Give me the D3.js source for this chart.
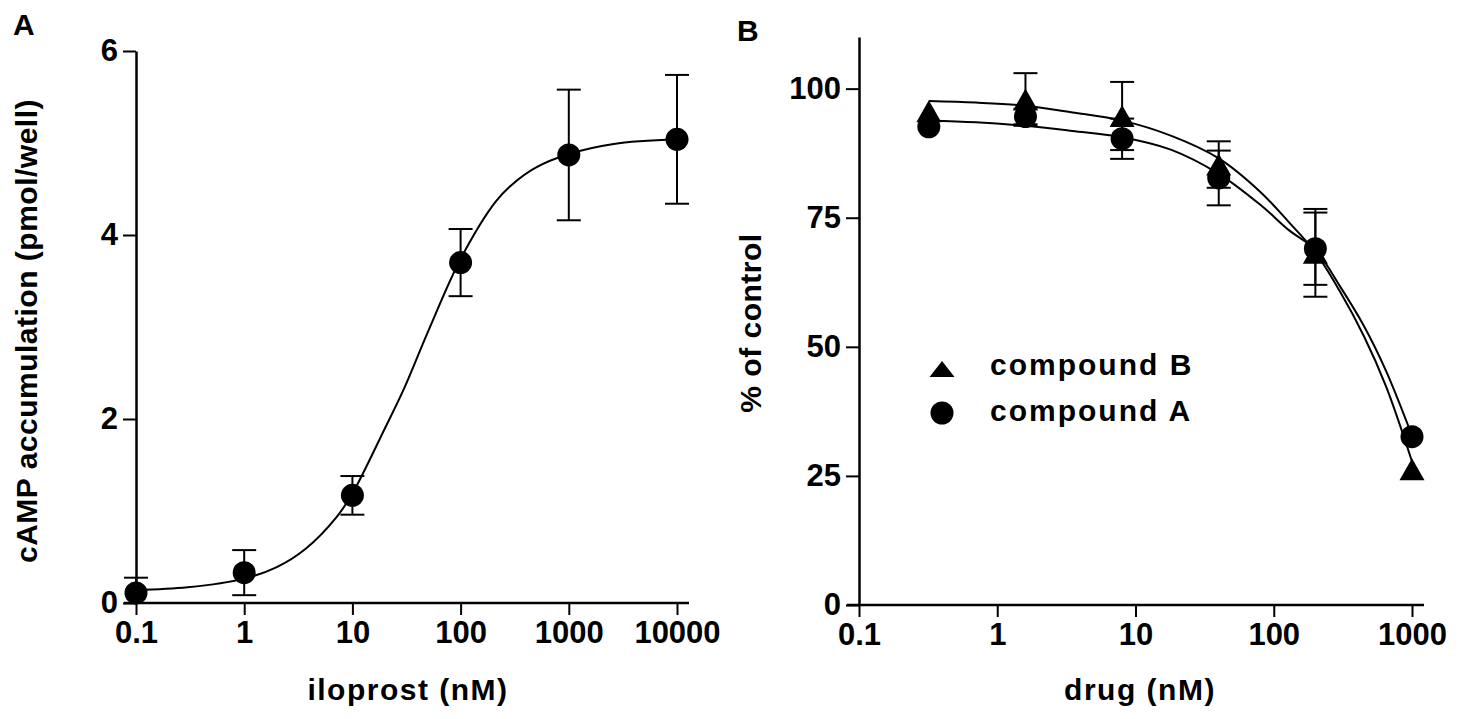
<!DOCTYPE html>
<html>
<head>
<meta charset="utf-8">
<script src="https://cdn.jsdelivr.net/npm/d3@7"></script>
<style>
  body { margin: 0; background: #fff; }
  svg text { font-family: "Liberation Sans", Arial, sans-serif; font-weight: bold; fill: #000; }
</style>
</head>
<body>
<div id="chart"></div>
<script>
/* DATA */
// panel A: iloprost concentration-response
const iloprostDose = [0.1, 1, 10, 100, 1000, 10000];
const campMean = [0.11, 0.33, 1.17, 3.70, 4.87, 5.04];
const campErr = [0.165, 0.245, 0.21, 0.365, 0.71, 0.70];
// fitted curve
const campFitDose = [0.1, 0.3, 1, 2, 3.7, 7.2, 10, 20, 30, 50, 100, 210, 300, 490, 1000, 2600, 10000];
const campFitValue = [0.14, 0.17, 0.265, 0.39, 0.59, 0.94, 1.19, 1.9, 2.33, 2.95, 3.74, 4.36, 4.55, 4.73, 4.88, 4.99, 5.04];

const aTicksX = [0.1, 1, 10, 100, 1000, 10000];
const aTicksY = [0, 2, 4, 6];

// panel B: compound A / compound B (0 = no visible error bar)
const drugDose = [0.32, 1.6, 8, 40, 200, 1000];
const compoundA = [92.6, 94.6, 90.3, 82.7, 69.0, 32.6];
const compoundAErr = [0, 1.5, 3.9, 5.3, 7.0, 0];
const compoundB = [95.6, 97.9, 94.7, 85.3, 68.2, 26.3];
const compoundBErr = [0, 5.1, 6.6, 4.5, 8.5, 0];
const fitDoseB = [0.32, 0.7, 1.6, 3.5, 8, 18, 40, 80, 130, 200, 300, 450, 650, 1000];
const fitCompoundB = [97.6, 97.3, 96.7, 95.4, 93.8, 90.9, 86.5, 80.0, 74.0, 68.3, 60.8, 52.0, 42.3, 27.8];
const fitCompoundA = [93.8, 93.5, 92.8, 91.8, 90.6, 88.2, 83.5, 77.5, 72.5, 68.8, 61.8, 54.0, 45.3, 32.8];

const bTicksX = [0.1, 1, 10, 100, 1000];
const bTicksY = [0, 25, 50, 75, 100];

/* CONSTANTS */
const width = 1463, height = 719;
const tickFont = 31;
const titleFont = 30;
const tickLen = 13;

const svg = d3.select("#chart").append("svg")
  .attr("width", width)
  .attr("height", height);

svg.append("rect").attr("width", width).attr("height", height).attr("fill", "#fff");

// triangle symbol (centred on its box, like the original)
function triangleType(w, h) {
  return {
    draw(ctx) {
      ctx.moveTo(0, -h / 2);
      ctx.lineTo(w / 2, h / 2);
      ctx.lineTo(-w / 2, h / 2);
      ctx.closePath();
    }
  };
}
const circleSym = d3.symbol(d3.symbolCircle, Math.PI * 11.5 * 11.5);
const triSym = d3.symbol(triangleType(25, 22));
const triLegend = d3.symbol(triangleType(25, 16));

const fmt = d => d3.format("~g")(d);

function drawPanel(opt) {
  const g = svg.append("g");
  const x = d3.scaleLog().domain(opt.xDomain).range(opt.xRange);
  const y = d3.scaleLinear().domain(opt.yDomain).range(opt.yRange);

  // x axis line (runs a bit past both ends)
  g.append("line")
    .attr("x1", opt.xRange[0] - 12).attr("x2", opt.xRange[1] + 12)
    .attr("y1", y(0)).attr("y2", y(0))
    .attr("stroke", "#000").attr("stroke-width", 2.5);

  const xAxis = g.append("g")
    .attr("transform", `translate(0,${y(0)})`)
    .call(d3.axisBottom(x).tickValues(opt.xTicks).tickFormat(fmt)
      .tickSize(12).tickPadding(6));
  xAxis.select(".domain").remove();

  const yAxis = g.append("g")
    .attr("transform", `translate(${opt.xRange[0]},0)`)
    .call(d3.axisLeft(y).tickValues(opt.yTicks).tickFormat(d3.format("d"))
      .tickSize(tickLen).tickSizeOuter(0).tickPadding(5));
  yAxis.select(".domain").attr("stroke-width", 2.5);

  [xAxis, yAxis].forEach(ax => {
    ax.selectAll(".tick line").attr("stroke-width", 2);
    ax.selectAll("text").attr("font-size", tickFont)
      .style("font-family", "'Liberation Sans', Arial, sans-serif").style("font-weight", "bold");
  });

  // axis titles
  g.append("text")
    .attr("x", opt.xTitleX).attr("y", 700)
    .attr("text-anchor", "middle")
    .attr("font-size", titleFont).attr("letter-spacing", 1.5)
    .text(opt.xTitle);

  g.append("text")
    .attr("transform", `translate(${opt.yTitleX},${opt.yTitleY}) rotate(-90)`)
    .attr("text-anchor", "middle")
    .attr("font-size", titleFont).attr("letter-spacing", 0.5)
    .text(opt.yTitle);

  g.append("text")
    .attr("x", opt.letterX).attr("y", opt.letterY)
    .attr("font-size", 30)
    .text(opt.letter);

  return { g, x, y };
}

function errorBars(g, x, y, dose, mean, err, floor) {
  const capW = 12;
  dose.forEach((d, i) => {
    if (!err[i]) return;
    const cx = x(d);
    const hi = mean[i] + err[i];
    const loRaw = mean[i] - err[i];
    const lo = Math.max(loRaw, floor);
    g.append("line").attr("x1", cx).attr("x2", cx)
      .attr("y1", y(hi)).attr("y2", y(lo))
      .attr("stroke", "#000").attr("stroke-width", 2);
    g.append("line").attr("x1", cx - capW).attr("x2", cx + capW)
      .attr("y1", y(hi)).attr("y2", y(hi))
      .attr("stroke", "#000").attr("stroke-width", 2);
    if (loRaw >= floor) {
      g.append("line").attr("x1", cx - capW).attr("x2", cx + capW)
        .attr("y1", y(lo)).attr("y2", y(lo))
        .attr("stroke", "#000").attr("stroke-width", 2);
    }
  });
}

function fitLine(g, x, y, dose, vals) {
  const line = d3.line()
    .x(d => x(d[0]))
    .y(d => y(d[1]))
    .curve(d3.curveCatmullRom.alpha(0.5));
  g.append("path")
    .datum(d3.zip(dose, vals))
    .attr("d", line)
    .attr("fill", "none")
    .attr("stroke", "#000")
    .attr("stroke-width", 2);
}

function points(g, x, y, dose, vals, sym) {
  g.selectAll(null)
    .data(d3.zip(dose, vals))
    .join("path")
    .attr("transform", d => `translate(${x(d[0])},${y(d[1])})`)
    .attr("d", sym)
    .attr("fill", "#000");
}

/* PANEL A */
const A = drawPanel({
  xDomain: [0.1, 10000], xRange: [136, 677],
  yDomain: [0, 6], yRange: [603, 51],
  xTicks: aTicksX, yTicks: aTicksY,
  xTitle: "iloprost (nM)", xTitleX: 408,
  yTitle: "cAMP accumulation (pmol/well)", yTitleX: 37, yTitleY: 331,
  letter: "A", letterX: 13, letterY: 35
});
errorBars(A.g, A.x, A.y, iloprostDose, campMean, campErr, 0);
fitLine(A.g, A.x, A.y, campFitDose, campFitValue);
points(A.g, A.x, A.y, iloprostDose, campMean, circleSym);

/* PANEL B */
const B = drawPanel({
  xDomain: [0.1, 1000], xRange: [859, 1412],
  yDomain: [0, 110], yRange: [605, 37],
  xTicks: bTicksX, yTicks: bTicksY,
  xTitle: "drug (nM)", xTitleX: 1140,
  yTitle: "% of control", yTitleX: 761, yTitleY: 323,
  letter: "B", letterX: 737, letterY: 41
});
errorBars(B.g, B.x, B.y, drugDose, compoundB, compoundBErr, 0);
errorBars(B.g, B.x, B.y, drugDose, compoundA, compoundAErr, 0);
fitLine(B.g, B.x, B.y, fitDoseB, fitCompoundB);
fitLine(B.g, B.x, B.y, fitDoseB, fitCompoundA);
points(B.g, B.x, B.y, drugDose, compoundB, triSym);
points(B.g, B.x, B.y, drugDose, compoundA, circleSym);

// legend
const legend = svg.append("g");
const legendItems = ["compound B", "compound A"];
const legendSyms = [triLegend, circleSym];
legendItems.forEach((name, i) => {
  const ly = 369 + i * 44;
  legend.append("path")
    .attr("transform", `translate(942,${ly})`)
    .attr("d", legendSyms[i])
    .attr("fill", "#000");
  legend.append("text")
    .attr("x", 990).attr("y", ly + 6 + i * 2)
    .attr("font-size", titleFont).attr("letter-spacing", 2)
    .text(name);
});
</script>
</body>
</html>
